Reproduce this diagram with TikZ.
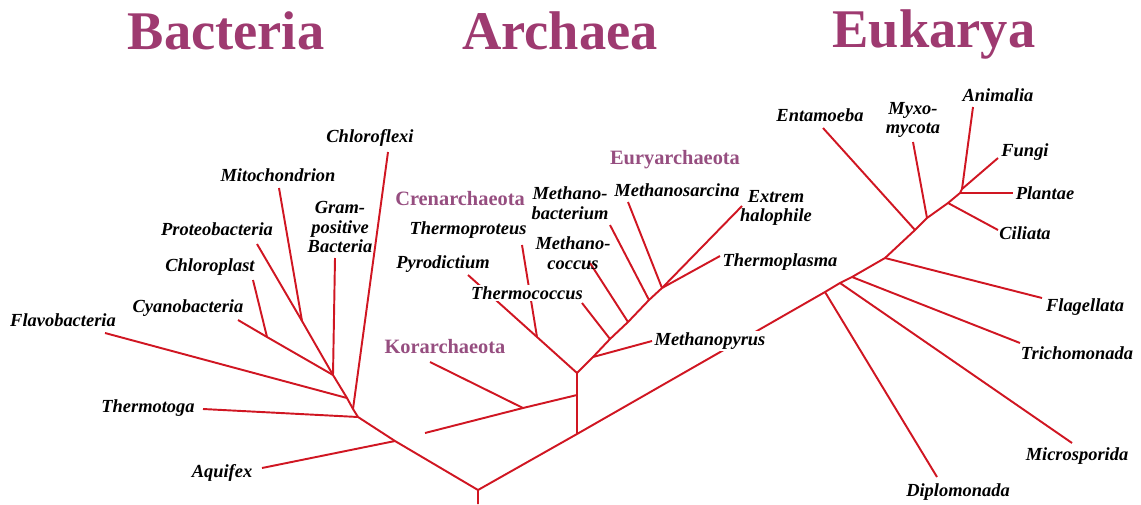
\documentclass[tikz,border=0pt]{standalone}
\usepackage{fontspec}
\setmainfont{Liberation Serif}
\usepackage{xcolor}
\usepackage{tikz}
\definecolor{treered}{RGB}{208,22,34}
\definecolor{dompurple}{RGB}{158,58,112}
\definecolor{grppurple}{RGB}{150,78,128}

\begin{document}
\begin{tikzpicture}[x=0.02cm,y=-0.02cm,line join=round,
  br/.style={line width=1.1pt,treered},
  lab/.style={font=\bfseries\itshape\fontsize{10.5}{11.2}\selectfont,inner sep=1pt,align=center},
  grp/.style={font=\bfseries\fontsize{11.6}{13}\selectfont,grppurple,inner sep=1pt},
  dom/.style={font=\bfseries\fontsize{31}{36}\selectfont,dompurple,anchor=base}]
  \useasboundingbox (0,0) rectangle (1141,504);
  % junctions and tips
  \coordinate (rb) at (478,504); \coordinate (r) at (478,490);
  \coordinate (aqj) at (395,441); \coordinate (aqe) at (262,468);
  \coordinate (b1) at (358,417);  \coordinate (tge) at (203,409);
  \coordinate (b2) at (353,409);  \coordinate (cfe) at (388,152);
  \coordinate (b3) at (347,398);  \coordinate (fle) at (105,333);
  \coordinate (b4) at (333,375);  \coordinate (gpe) at (335,258);
  \coordinate (b5) at (302,321);  \coordinate (mie) at (279,188);
  \coordinate (pre) at (257,244);
  \coordinate (cpj) at (267,337); \coordinate (cpe) at (253,280);
  \coordinate (cye) at (238,320);
  \coordinate (a0) at (577,434); \coordinate (a1) at (577,395); \coordinate (a2) at (577,373);
  \coordinate (kaj) at (523,408); \coordinate (kae) at (425,433); \coordinate (kbe) at (430,362);
  \coordinate (tpj) at (537,337); \coordinate (tpe) at (522,245); \coordinate (cre) at (468,275);
  \coordinate (mpj) at (593,357); \coordinate (mpe) at (652,341);
  \coordinate (tcj) at (610,339); \coordinate (tce) at (582,303);
  \coordinate (mcj) at (628,322); \coordinate (mce) at (590,263);
  \coordinate (mbj) at (649,300); \coordinate (mbe) at (610,225);
  \coordinate (ej) at (662,288);
  \coordinate (msae) at (628,202); \coordinate (ehe) at (742,206); \coordinate (tple) at (720,256);
  \coordinate (dpj) at (825,292); \coordinate (dpe) at (937,477);
  \coordinate (mspj) at (840,283); \coordinate (mspe) at (1072,443);
  \coordinate (trj) at (852,277); \coordinate (tre) at (1020,343);
  \coordinate (flj) at (885,258); \coordinate (fge) at (1042,298);
  \coordinate (enj) at (915,230); \coordinate (ene) at (823,128);
  \coordinate (myj) at (927,218); \coordinate (mye) at (913,142);
  \coordinate (cij) at (948,203); \coordinate (cie) at (998,230);
  \coordinate (cr) at (960,193);  \coordinate (afj) at (962,189);
  \coordinate (ane) at (973,107); \coordinate (fue) at (998,158); \coordinate (ple) at (1013,193);
  % bacteria
  \draw[br] (rb) -- (r) -- (aqj) -- (b1) -- (b2) -- (b3) -- (b4) -- (b5) -- (pre);
  \draw[br] (aqj) -- (aqe);
  \draw[br] (b1) -- (tge);
  \draw[br] (b2) -- (cfe);
  \draw[br] (b3) -- (fle);
  \draw[br] (b4) -- (gpe);
  \draw[br] (b5) -- (mie);
  \draw[br] (b4) -- (cpj) -- (cye);
  \draw[br] (cpj) -- (cpe);
  % archaea
  \draw[br] (a0) -- (a1) -- (a2);
  \draw[br] (a1) -- (kaj) -- (kae);
  \draw[br] (kaj) -- (kbe);
  \draw[br] (a2) -- (tpj) -- (cre);
  \draw[br] (tpj) -- (tpe);
  \draw[br] (a2) -- (mpj) -- (tcj) -- (mcj) -- (mbj) -- (ej);
  \draw[br] (mpj) -- (mpe);
  \draw[br] (tcj) -- (tce);
  \draw[br] (mcj) -- (mce);
  \draw[br] (mbj) -- (mbe);
  \draw[br] (ej) -- (msae);
  \draw[br] (ej) -- (ehe);
  \draw[br] (ej) -- (tple);
  % eukarya
  \draw[br] (r) -- (a0) -- (dpj) -- (mspj) -- (trj) -- (flj) -- (enj) -- (myj) -- (cij) -- (cr) -- (afj);
  \draw[br] (dpj) -- (dpe);
  \draw[br] (mspj) -- (mspe);
  \draw[br] (trj) -- (tre);
  \draw[br] (flj) -- (fge);
  \draw[br] (enj) -- (ene);
  \draw[br] (myj) -- (mye);
  \draw[br] (cij) -- (cie);
  \draw[br] (afj) -- (ane);
  \draw[br] (afj) -- (fue);
  \draw[br] (cr) -- (ple);
  % titles
  \node[dom] (bac) at (226,49) {Bacteria};
  \node[dom] (arc) at (560,49) {Archaea};
  \node[dom] (euk) at (934,47) {Eukarya};
  % labels
  \node[lab] (cflab) at (370,138) {Chloroflexi};
  \node[lab] (milab) at (278,175) {Mitochondrion};
  \node[lab] (prlab) at (217,229) {Proteobacteria};
  \node[lab] (gplab) at (340,227) {Gram-\\positive\\Bacteria};
  \node[lab] (cplab) at (210,267) {Chloroplast};
  \node[lab] (cylab) at (188,308) {Cyanobacteria};
  \node[lab] (fllab) at (63,320) {Flavobacteria};
  \node[lab] (tglab) at (148,408) {Thermotoga};
  \node[lab] (aqlab) at (222,473) {Aquifex};
  \node[grp] (crlab) at (460,199) {Crenarchaeota};
  \node[grp] (eulab) at (675,160) {Euryarchaeota};
  \node[grp] (kolab) at (445,347) {Korarchaeota};
  \node[lab] (tplab) at (468,230) {Thermoproteus};
  \node[lab] (pylab) at (443,264) {Pyrodictium};
  \node[lab,fill=white] (tclab) at (527,293) {Thermococcus};
  \node[lab] (mblab) at (570,203) {Methano-\\bacterium};
  \node[lab] (mclab) at (573,253) {Methano-\\coccus};
  \node[lab] (mslab) at (677,190) {Methanosarcina};
  \node[lab] (ehlab) at (776,208) {Extrem\\halophile};
  \node[lab] (tmlab) at (780,262) {Thermoplasma};
  \node[lab,fill=white] (mplab) at (710,341) {Methanopyrus};
  \node[lab] (enlab) at (820,115) {Entamoeba};
  \node[lab] (mylab) at (913,120) {Myxo-\\mycota};
  \node[lab] (anlab) at (998,95) {Animalia};
  \node[lab] (fulab) at (1025,152) {Fungi};
  \node[lab] (pllab) at (1045,193) {Plantae};
  \node[lab] (cilab) at (1025,233) {Ciliata};
  \node[lab] (fglab) at (1085,307) {Flagellata};
  \node[lab] (trlab) at (1077,353) {Trichomonada};
  \node[lab] (mslab2) at (1077,456) {Microsporida};
  \node[lab] (dplab) at (958,492) {Diplomonada};
\end{tikzpicture}
\end{document}
